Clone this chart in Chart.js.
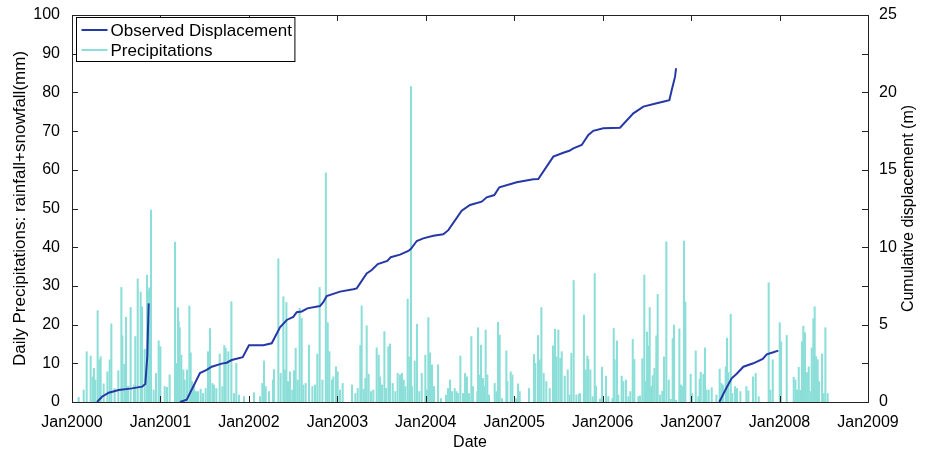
<!DOCTYPE html>
<html>
<head>
<meta charset="utf-8">
<script src="https://cdn.jsdelivr.net/npm/chart.js@4.4.1/dist/chart.umd.min.js"></script>
<style>
  html, body { margin: 0; padding: 0; background: #fff; }
  #wrap { width: 928px; height: 455px; }
</style>
</head>
<body>
<div id="wrap"><canvas id="chart"></canvas></div>
<script>
const yearTicks = [2000, 2001, 2002, 2003, 2004, 2005, 2006, 2007, 2008, 2009]
const precipTicks = [0, 10, 20, 30, 40, 50, 60, 70, 80, 90, 100]
const dispTicks = [0, 5, 10, 15, 20, 25]

// daily precipitation, dates in decimal years
const precipDates = [
  2000.075, 2000.132, 2000.166, 2000.211, 2000.234, 2000.249, 2000.264, 2000.290, 2000.309, 2000.324,
  2000.358, 2000.400, 2000.426, 2000.445, 2000.482, 2000.524, 2000.558, 2000.569, 2000.592, 2000.611,
  2000.633, 2000.663, 2000.701, 2000.716, 2000.743, 2000.776, 2000.792, 2000.822, 2000.848, 2000.863,
  2000.874, 2000.893, 2000.923, 2000.950, 2000.980, 2000.999, 2001.048, 2001.074, 2001.104, 2001.165,
  2001.180, 2001.199, 2001.206, 2001.218, 2001.236, 2001.259, 2001.274, 2001.300, 2001.327, 2001.342,
  2001.357, 2001.380, 2001.402, 2001.425,
  2001.455, 2001.481, 2001.511, 2001.538, 2001.560, 2001.587, 2001.606, 2001.632, 2001.670, 2001.700,
  2001.722, 2001.738, 2001.768, 2001.802, 2001.832, 2001.858, 2001.888, 2001.945, 2002.058, 2002.126,
  2002.152, 2002.171, 2002.190, 2002.228, 2002.273, 2002.284, 2002.333, 2002.359, 2002.390, 2002.405,
  2002.424, 2002.442, 2002.465, 2002.491, 2002.510, 2002.529, 2002.552, 2002.574, 2002.597, 2002.616,
  2002.642, 2002.680, 2002.718, 2002.748, 2002.774, 2002.800, 2002.831, 2002.870,
  2002.891, 2002.910, 2002.940, 2002.955, 2002.985, 2003.004, 2003.030, 2003.060, 2003.166, 2003.204,
  2003.230, 2003.260, 2003.275, 2003.298, 2003.317, 2003.332, 2003.354, 2003.381, 2003.407, 2003.445,
  2003.468, 2003.483, 2003.505, 2003.532, 2003.550, 2003.577, 2003.596, 2003.626, 2003.656, 2003.682,
  2003.709, 2003.731, 2003.750, 2003.769, 2003.795, 2003.814, 2003.833, 2003.844, 2003.875, 2003.901,
  2003.927, 2003.954, 2003.995, 2004.014, 2004.029, 2004.048, 2004.071, 2004.093, 2004.139, 2004.172,
  2004.229, 2004.252, 2004.274, 2004.297,
  2004.327, 2004.346, 2004.365, 2004.391, 2004.421, 2004.444, 2004.466, 2004.489, 2004.515, 2004.534,
  2004.583, 2004.591, 2004.610, 2004.625, 2004.647, 2004.662, 2004.677, 2004.696, 2004.715, 2004.779,
  2004.798, 2004.817, 2004.836, 2004.862, 2004.911, 2004.922, 2004.960, 2004.979, 2005.024, 2005.043,
  2005.062, 2005.167, 2005.224, 2005.239, 2005.269, 2005.288, 2005.307, 2005.333, 2005.363, 2005.401,
  2005.439, 2005.461, 2005.476, 2005.499, 2005.522, 2005.537, 2005.571, 2005.605, 2005.627, 2005.646,
  2005.672, 2005.703, 2005.733,
  2005.744, 2005.789, 2005.808, 2005.827, 2005.838, 2005.861, 2005.887, 2005.910, 2005.925, 2005.970,
  2005.993, 2006.038, 2006.064, 2006.110, 2006.125, 2006.136, 2006.162, 2006.177, 2006.215, 2006.234,
  2006.264, 2006.291, 2006.313, 2006.340, 2006.358, 2006.404, 2006.422, 2006.449, 2006.471, 2006.487,
  2006.502, 2006.517, 2006.532, 2006.547, 2006.566, 2006.585, 2006.607, 2006.622, 2006.649, 2006.675,
  2006.694, 2006.720, 2006.747, 2006.769, 2006.792, 2006.807, 2006.830, 2006.867, 2006.886, 2006.909,
  2006.920, 2006.935, 2006.995, 2007.010, 2007.052, 2007.082, 2007.097, 2007.109, 2007.139, 2007.157,
  2007.173,
  2007.199, 2007.233, 2007.286, 2007.323, 2007.342, 2007.361, 2007.391, 2007.406, 2007.421, 2007.448,
  2007.466, 2007.497, 2007.519, 2007.557, 2007.625, 2007.647, 2007.700, 2007.730, 2007.764, 2007.877,
  2007.896, 2007.923, 2008.002, 2008.017, 2008.081, 2008.160, 2008.179, 2008.198, 2008.217, 2008.235,
  2008.254, 2008.269, 2008.288, 2008.311, 2008.330, 2008.348, 2008.364, 2008.382, 2008.397, 2008.413,
  2008.431, 2008.446, 2008.480, 2008.499, 2008.518, 2008.544
]
const precipMm = [
  1.2, 3.1, 13.0, 11.9, 6.5, 8.7, 5.7, 23.6, 10.9, 11.7,
  4.7, 7.8, 10.9, 20.2, 3.5, 8.1, 29.6, 17.1, 9.8, 21.9,
  4.1, 24.4, 4.4, 16.9, 31.8, 28.4, 24.6, 13.6, 32.8, 28.6,
  29.5, 49.6, 3.1, 7.4, 15.8, 14.3, 4.0, 3.8, 7.0, 41.3,
  10.0, 24.4, 20.8, 19.2, 12.1, 8.3, 5.7, 8.3, 24.8, 12.7,
  5.3, 4.4, 2.7, 2.7,
  3.3, 2.2, 3.5, 13.0, 19.0, 4.8, 4.4, 3.5, 12.4, 4.0,
  14.6, 13.9, 13.0, 25.9, 2.2, 10.0, 1.8, 1.4, 2.4, 1.4,
  4.8, 10.6, 4.0, 2.7, 5.7, 8.4, 37.0, 7.4, 27.2, 8.3,
  25.7, 5.3, 7.8, 3.1, 8.1, 13.9, 5.7, 24.2, 21.6, 4.4,
  4.8, 14.7, 4.0, 4.4, 12.4, 29.6, 5.7, 59.2,
  20.5, 13.0, 5.7, 6.5, 9.1, 7.8, 3.1, 4.8, 4.4, 2.2,
  3.5, 14.6, 24.8, 3.3, 6.1, 19.7, 7.2, 2.7, 3.1, 14.0,
  12.1, 6.5, 4.4, 18.2, 3.5, 14.3, 15.0, 4.8, 2.7, 7.4,
  7.0, 7.4, 5.7, 4.0, 26.6, 11.7, 81.5, 4.0, 10.6, 20.1,
  2.7, 7.4, 12.1, 3.1, 21.8, 12.7, 9.6, 4.0, 9.6, 0.9,
  1.8, 3.5, 5.7, 2.7,
  3.5, 2.7, 2.2, 11.9, 2.2, 7.4, 6.5, 2.2, 16.9, 4.0,
  2.7, 19.2, 7.0, 14.7, 6.1, 4.0, 18.6, 7.0, 1.8, 4.8,
  2.7, 20.6, 17.3, 0.9, 13.2, 5.3, 7.8, 7.0, 0.9, 4.7,
  2.7, 3.5, 12.3, 10.0, 17.2, 10.9, 24.4, 7.4, 5.3, 3.5,
  14.5, 18.8, 11.7, 18.6, 11.3, 13.0, 6.7, 8.3, 1.8, 12.6,
  31.4, 1.8, 2.0,
  2.2, 22.5, 8.3, 11.9, 11.0, 8.3, 1.4, 33.2, 4.1, 0.8,
  9.0, 6.7, 1.4, 0.9, 19.0, 10.9, 15.8, 1.8, 6.7, 5.3,
  5.7, 1.4, 2.7, 16.2, 11.0, 1.4, 1.6, 11.2, 32.8, 5.3,
  18.1, 14.5, 24.4, 4.0, 6.8, 8.7, 17.1, 27.8, 1.8, 2.8,
  11.7, 41.4, 5.7, 0.7, 16.4, 19.9, 0.5, 18.9, 4.4, 4.0,
  41.6, 25.8, 7.2, 2.2, 13.2, 1.4, 5.9, 7.7, 7.2, 14.0,
  3.1,
  3.1, 3.7, 1.8, 8.5, 4.8, 4.4, 9.1, 16.5, 7.6, 22.7,
  2.2, 4.0, 3.5, 2.7, 4.0, 2.9, 6.5, 7.4, 1.4, 30.8,
  3.1, 10.9, 20.5, 15.6, 17.2, 6.4, 5.7, 3.1, 9.0, 3.1,
  15.6, 19.6, 17.9, 7.6, 9.1, 2.7, 14.0, 21.5, 24.6, 11.7,
  10.9, 5.3, 12.4, 2.2, 19.2, 2.2
]

// cumulative displacement in metres; null breaks the line between survey periods
const dispDates = [
  2000.283, 2000.339, 2000.415, 2000.528, 2000.678, 2000.792, 2000.829, 2000.851, 2000.867,
  2001.000,
  2001.221, 2001.297, 2001.447, 2001.523, 2001.580, 2001.693, 2001.749, 2001.806, 2001.930, 2002.001,
  2002.163, 2002.258, 2002.352, 2002.428, 2002.502, 2002.541, 2002.597, 2002.661, 2002.804, 2002.841,
  2002.880, 2003.030, 2003.181, 2003.219, 2003.332, 2003.389, 2003.457, 2003.565, 2003.604, 2003.709,
  2003.803, 2003.833, 2003.898, 2003.972, 2004.085, 2004.198, 2004.255, 2004.406, 2004.500, 2004.632,
  2004.689, 2004.775, 2004.832, 2005.028, 2005.216, 2005.272, 2005.442, 2005.555, 2005.623, 2005.668,
  2005.763, 2005.838, 2005.894, 2006.007, 2006.196, 2006.347, 2006.460, 2006.611, 2006.754, 2006.781,
  2006.818, 2006.830,
  2007.000,
  2007.319, 2007.403, 2007.459, 2007.516, 2007.591, 2007.704, 2007.810, 2007.855, 2007.930, 2007.986
]
const dispMetres = [
  0, 0.34, 0.6, 0.78, 0.88, 0.99, 1.16, 2.93, 6.37,
  null,
  0, 0.15, 1.87, 2.07, 2.28, 2.48, 2.54, 2.71, 2.89, 3.66,
  3.66, 3.79, 4.83, 5.3, 5.5, 5.8, 5.85, 6.05, 6.2, 6.45,
  6.85, 7.13, 7.28, 7.34, 8.31, 8.53, 8.91, 9.12, 9.35, 9.52,
  9.76, 9.9, 10.4, 10.57, 10.74, 10.83, 11.1, 12.36, 12.73, 12.94,
  13.22, 13.37, 13.87, 14.2, 14.39, 14.4, 15.85, 16.1, 16.23, 16.39,
  16.6, 17.25, 17.52, 17.68, 17.72, 18.65, 19.08, 19.3, 19.5, 20.15,
  21.0, 21.56,
  null,
  0, 0.95, 1.53, 1.83, 2.28, 2.5, 2.78, 3.08, 3.21, 3.32
]

const precipColor = 'rgb(140, 223, 216)'
const dispColor = 'rgb(38, 56, 166)'
const axisColor = '#222'
const font = 'Liberation Sans, Arial, Helvetica, sans-serif'

// box with inward ticks on all four sides, plus the right-hand title and legend
const matlabAxes = {
  id: 'matlabAxes',
  afterDraw(chart) {
    const { ctx, chartArea: a, scales } = chart
    const tick = 6
    ctx.save()
    ctx.strokeStyle = axisColor
    ctx.lineWidth = 1
    ctx.beginPath()
    yearTicks.forEach(v => {
      const x = Math.round(scales.x.getPixelForValue(v)) + 0.5
      ctx.moveTo(x, a.bottom); ctx.lineTo(x, a.bottom - tick)
      ctx.moveTo(x, a.top); ctx.lineTo(x, a.top + tick)
    })
    precipTicks.forEach(v => {
      const y = Math.round(scales.yL.getPixelForValue(v)) + 0.5
      ctx.moveTo(a.left, y); ctx.lineTo(a.left + tick, y)
      ctx.moveTo(a.right, y); ctx.lineTo(a.right - tick, y)
    })
    ctx.stroke()
    ctx.strokeRect(Math.round(a.left) + 0.5, Math.round(a.top) + 0.5,
      Math.round(a.right - a.left), Math.round(a.bottom - a.top))

    // right axis title reads bottom to top
    ctx.fillStyle = '#000'
    ctx.font = '16px ' + font
    ctx.textAlign = 'center'
    ctx.textBaseline = 'middle'
    ctx.translate(a.right + 41, (a.top + a.bottom) / 2)
    ctx.rotate(-Math.PI / 2)
    ctx.fillText('Cumulative displacement (m)', 0, 0)
    ctx.restore()

    // legend
    ctx.save()
    ctx.font = '17px ' + font
    const items = [
      { text: 'Observed Displacement', color: dispColor },
      { text: 'Precipitations', color: precipColor }
    ]
    const bx = Math.round(a.left) + 4.5
    const by = Math.round(a.top) + 2.5
    const textX = bx + 34
    const w = Math.max(...items.map(i => ctx.measureText(i.text).width)) + 37
    const h = 44
    ctx.fillStyle = '#fff'
    ctx.fillRect(bx, by, w, h)
    ctx.strokeStyle = '#000'
    ctx.lineWidth = 1
    ctx.strokeRect(bx, by, w, h)
    ctx.textBaseline = 'middle'
    items.forEach((it, i) => {
      const y = by + 12.5 + i * 20
      ctx.strokeStyle = it.color
      ctx.lineWidth = 2
      ctx.beginPath()
      ctx.moveTo(bx + 5, y); ctx.lineTo(bx + 31, y)
      ctx.stroke()
      ctx.fillStyle = '#000'
      ctx.fillText(it.text, textX, y + 1)
    })
    ctx.restore()
  }
}

new Chart(document.getElementById('chart'), {
  type: 'bar',
  data: {
    datasets: [
      {
        type: 'line',
        label: 'Observed Displacement',
        data: dispDates.map((d, i) => ({ x: d, y: dispMetres[i] })),
        yAxisID: 'yR',
        borderColor: dispColor,
        borderWidth: 2,
        pointRadius: 0,
        spanGaps: false,
        order: 0
      },
      {
        type: 'bar',
        label: 'Precipitations',
        data: precipDates.map((d, i) => ({ x: d, y: precipMm[i] })),
        yAxisID: 'yL',
        backgroundColor: precipColor,
        barThickness: 1.4,
        order: 1
      }
    ]
  },
  options: {
    responsive: true,
    maintainAspectRatio: false,
    animation: false,
    layout: { padding: { top: 15, left: 0, right: 0, bottom: 0 } },
    plugins: {
      legend: { display: false },
      tooltip: { enabled: false }
    },
    scales: {
      x: {
        type: 'linear',
        min: 2000,
        max: 2009,
        offset: false,
        grid: { display: false },
        border: { display: false },
        afterFit: s => { s.height = 53 },
        afterBuildTicks: s => { s.ticks = yearTicks.map(v => ({ value: v })) },
        ticks: {
          color: '#000',
          padding: 3,
          maxRotation: 0,
          font: { family: font, size: 16 },
          callback: v => 'Jan' + v
        },
        title: {
          display: true,
          text: 'Date',
          color: '#000',
          padding: { bottom: 3 },
          font: { family: font, size: 16 }
        }
      },
      yL: {
        type: 'linear',
        position: 'left',
        min: 0,
        max: 100,
        grid: { display: false },
        border: { display: false },
        afterFit: s => { s.width = 72 },
        afterBuildTicks: s => { s.ticks = precipTicks.map(v => ({ value: v })) },
        ticks: { color: '#000', padding: 4, font: { family: font, size: 16 } },
        title: {
          display: true,
          text: 'Daily Precipitations: rainfall+snowfall(mm)',
          color: '#000',
          padding: { top: 10 },
          font: { family: font, size: 17 }
        }
      },
      yR: {
        type: 'linear',
        position: 'right',
        min: 0,
        max: 25,
        grid: { display: false },
        border: { display: false },
        afterFit: s => { s.width = 60 },
        afterBuildTicks: s => { s.ticks = dispTicks.map(v => ({ value: v })) },
        ticks: { color: '#000', padding: 3, font: { family: font, size: 16 } }
      }
    }
  },
  plugins: [matlabAxes]
})
</script>
</body>
</html>
